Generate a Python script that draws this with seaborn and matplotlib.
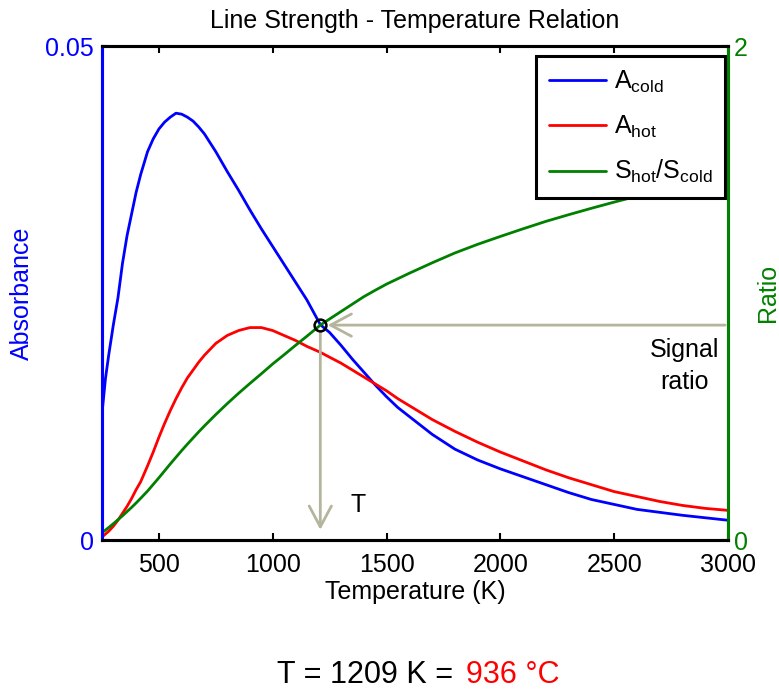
import matplotlib
matplotlib.use("Agg")
import matplotlib.pyplot as plt
import seaborn as sns
import pandas as pd
from matplotlib.patches import FancyArrowPatch

# ---------------- data ----------------
temperature_K = [250, 265, 280, 300, 320, 340, 360, 380, 400, 420, 450, 475, 500, 525, 550,
                 575, 600, 625, 650, 675, 700, 725, 750, 775, 800, 850, 900, 950, 1000, 1050,
                 1100, 1150, 1209, 1250, 1300, 1350, 1400, 1450, 1500, 1550, 1600, 1700,
                 1800, 1900, 2000, 2100, 2200, 2300, 2400, 2500, 2600, 2700, 2800, 2900, 3000]

absorbance_cold = [0.0128, 0.0163, 0.0188, 0.0218, 0.0245, 0.0280, 0.0308, 0.0330, 0.0352,
                   0.0370, 0.0393, 0.0406, 0.0416, 0.0423, 0.0428, 0.0432, 0.0431, 0.0428,
                   0.0424, 0.0418, 0.0411, 0.0402, 0.0393, 0.0383, 0.0373, 0.0354, 0.0334,
                   0.0315, 0.0297, 0.0279, 0.0261, 0.0243, 0.0218, 0.0210, 0.0197, 0.0183,
                   0.0170, 0.0157, 0.0145, 0.0134, 0.0125, 0.0107, 0.0092, 0.0081, 0.0072,
                   0.0064, 0.0056, 0.0048, 0.0041, 0.0036, 0.0031, 0.0028, 0.0025, 0.00225,
                   0.0020]

absorbance_hot = [0.0003, 0.0006, 0.0009, 0.0014, 0.0020, 0.0027, 0.0034, 0.0042, 0.0051,
                  0.0059, 0.0075, 0.0089, 0.0104, 0.0118, 0.0131, 0.0143, 0.0154, 0.0164,
                  0.0172, 0.0180, 0.0187, 0.0193, 0.0199, 0.0203, 0.0207, 0.0212, 0.0215,
                  0.0215, 0.0212, 0.0207, 0.0202, 0.0196, 0.0190, 0.0185, 0.0179, 0.0172,
                  0.0165, 0.0158, 0.0151, 0.0143, 0.0136, 0.0122, 0.0110, 0.0099, 0.0089,
                  0.0080, 0.0071, 0.0063, 0.0056, 0.0049, 0.0044, 0.0039, 0.0035, 0.0032,
                  0.0030]

signal_ratio = [0.030, 0.040, 0.051, 0.066, 0.082, 0.098, 0.115, 0.132, 0.150, 0.169, 0.198,
                0.225, 0.252, 0.280, 0.308, 0.335, 0.362, 0.388, 0.413, 0.438, 0.462, 0.485,
                0.508, 0.530, 0.552, 0.594, 0.634, 0.673, 0.713, 0.750, 0.788, 0.825, 0.870,
                0.895, 0.925, 0.955, 0.985, 1.011, 1.036, 1.058, 1.080, 1.122, 1.162, 1.197,
                1.229, 1.260, 1.290, 1.317, 1.343, 1.368, 1.392, 1.415, 1.437, 1.460, 1.484]

measured_T = 1209
measured_C = 936
x_ticks = [500, 1000, 1500, 2000, 2500, 3000]
left_ticks = [0, 0.05]
right_ticks = [0, 2]
labels = [r"A$_{cold}$", r"A$_{hot}$", r"S$_{hot}$/S$_{cold}$"]

df = pd.DataFrame({"T": temperature_K, "cold": absorbance_cold,
                   "hot": absorbance_hot, "ratio": signal_ratio})

# ---------------- style ----------------
sns.set_style("white")
plt.rcParams["font.family"] = ["Liberation Sans", "DejaVu Sans"]
plt.rcParams["mathtext.default"] = "regular"
plt.rcParams["text.color"] = "black"
plt.rcParams["axes.labelcolor"] = "black"
plt.rcParams["xtick.color"] = "black"
plt.rcParams["ytick.color"] = "black"

BLUE, RED, GREEN = "#0000ff", "#ff0000", "#008000"
ARROW = "#b5b59d"
FS = 18

fig = plt.figure(figsize=(7.79, 6.90), dpi=100)
ax = fig.add_axes([102 / 779, 150 / 690, 626 / 779, 494 / 690])
ax2 = ax.twinx()

sns.lineplot(data=df, x="T", y="cold", ax=ax, color=BLUE, linewidth=2.0, label=labels[0])
sns.lineplot(data=df, x="T", y="hot", ax=ax, color=RED, linewidth=2.0, label=labels[1])
sns.lineplot(data=df, x="T", y="ratio", ax=ax2, color=GREEN, linewidth=2.0, label=labels[2])

ax.set_xlim(250, 3000)
ax.set_ylim(0, 0.05)
ax2.set_ylim(0, 2)

ax.set_xticks(x_ticks)
ax.set_xticklabels([str(v) for v in x_ticks])
ax.set_yticks(left_ticks)
ax.set_yticklabels(["0", "0.05"])
ax2.set_yticks(right_ticks)
ax2.set_yticklabels(["0", "2"])

ax.tick_params(axis="x", direction="in", top=True, bottom=True, length=5, width=1.5,
               labelsize=FS, pad=9, colors="black")
ax.tick_params(axis="y", direction="in", length=5, width=1.5, labelsize=FS, pad=6,
               colors=BLUE)
ax2.tick_params(axis="y", direction="in", length=5, width=1.5, labelsize=FS, pad=4,
                colors=GREEN)

for a in (ax, ax2):
    for s in a.spines.values():
        s.set_linewidth(2.2)
        s.set_color("black")
        s.set_visible(True)
ax.spines["left"].set_color(BLUE)
ax2.spines["left"].set_color(BLUE)
ax2.spines["right"].set_color(GREEN)
ax.spines["right"].set_color(GREEN)

ax.set_xlabel("Temperature (K)", fontsize=FS, color="black")
ax.xaxis.set_label_coords(0.5, -0.08)
ax.set_ylabel("Absorbance", fontsize=FS, color=BLUE)
ax.yaxis.set_label_coords(-0.108, 0.5)
ax2.set_ylabel("Ratio", fontsize=FS, color=GREEN)
ax2.yaxis.set_label_coords(1.045, 0.5)
ax.set_title("Line Strength - Temperature Relation", fontsize=FS, pad=13, color="black")

# ---------------- annotation: measured point ----------------
i = temperature_K.index(measured_T)
r_meas = signal_ratio[i]
arr_h = FancyArrowPatch((3000, r_meas), (measured_T + 20, r_meas),
                        arrowstyle="->,head_length=0.75,head_width=0.4",
                        mutation_scale=20, color=ARROW, linewidth=2.0, zorder=3)
arr_v = FancyArrowPatch((measured_T, r_meas - 0.02), (measured_T, 0.03),
                        arrowstyle="->,head_length=0.75,head_width=0.4",
                        mutation_scale=20, color=ARROW, linewidth=2.0, zorder=3)
ax2.add_patch(arr_h)
ax2.add_patch(arr_v)
ax2.plot([measured_T], [r_meas], marker="o", markersize=8.5, markerfacecolor="none",
         markeredgecolor="black", markeredgewidth=1.8, zorder=5)

ax2.text(1374, 0.142, "T", fontsize=FS, ha="center", va="center", color="black")
ax2.text(2810, 0.704, "Signal\nratio", fontsize=FS, ha="center", va="center",
         color="black", linespacing=1.4)

# ---------------- legend ----------------
ax.get_legend().remove()
h1, l1 = ax.get_legend_handles_labels()
h2, l2 = ax2.get_legend_handles_labels()
leg = ax2.legend(h1 + h2, l1 + l2, loc="upper right", bbox_to_anchor=(0.995, 0.98),
                 borderaxespad=0, fontsize=FS, frameon=True, fancybox=False,
                 framealpha=1, edgecolor="black", handlelength=2.3, handletextpad=0.3,
                 labelspacing=0.75, borderpad=0.5)
leg.get_frame().set_linewidth(2.2)
leg.set_zorder(10)
for t in leg.get_texts():
    t.set_color("black")

# ---------------- bottom result text ----------------
fig.text(453 / 779, 1 - 675 / 690, f"T = {measured_T} K =", fontsize=22, ha="right",
         va="center", color="black")
fig.text(466 / 779, 1 - 675 / 690, f"{measured_C} °C", fontsize=22, ha="left",
         va="center", color=RED)

fig.savefig("out.png", dpi=100)
